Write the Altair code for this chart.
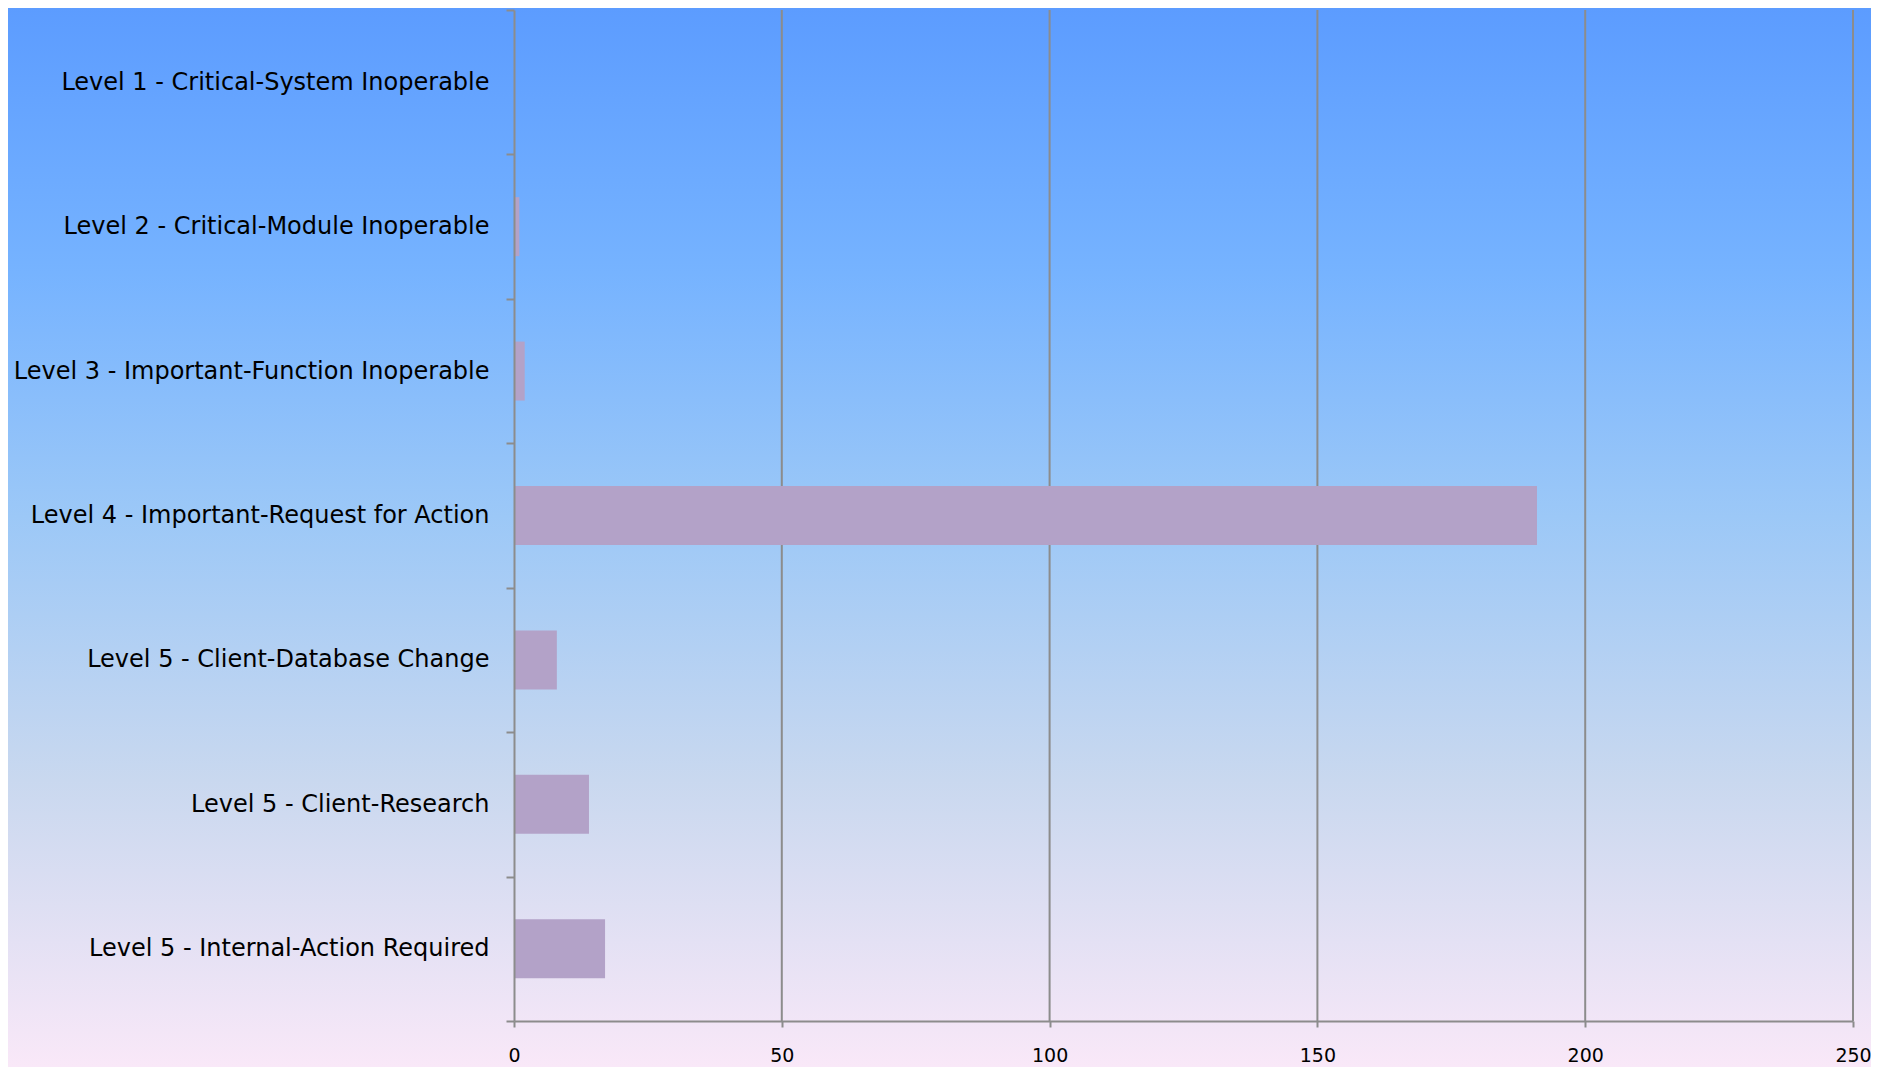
import altair as alt
import pandas as pd

categories = [
    "Level 1 - Critical-System Inoperable",
    "Level 2 - Critical-Module Inoperable",
    "Level 3 - Important-Function Inoperable",
    "Level 4 - Important-Request for Action",
    "Level 5 - Client-Database Change",
    "Level 5 - Client-Research",
    "Level 5 - Internal-Action Required",
]
counts = [0, 1, 2, 191, 8, 14, 17]
x_ticks = [0, 50, 100, 150, 200, 250]

W, H = 1339, 1011
PAD = {"left": 506, "top": 2, "right": 18, "bottom": 46}
GRAY = "#8c8c8c"
FONT = "DejaVu Sans"

df = pd.DataFrame({"level": categories, "count": counts})
grid_df = pd.DataFrame({"v": x_ticks[1:]})
bg_df = pd.DataFrame({"k": [0]})

grad = alt.LinearGradient(
    gradient="linear", x1=0, y1=0, x2=0, y2=1,
    stops=[
        alt.GradientStop(offset=0.0, color="#5c9cff"),
        alt.GradientStop(offset=0.25, color="#76b3ff"),
        alt.GradientStop(offset=0.48, color="#9cc8f7"),
        alt.GradientStop(offset=0.73, color="#c9d8ef"),
        alt.GradientStop(offset=1.0, color="#f9e8f8"),
    ],
)

x_scale = alt.Scale(domain=[0, 250], nice=False, zero=True)
x_axis = alt.Axis(
    values=x_ticks, format="d", grid=False, zindex=1, labelFlush=False,
    domainColor=GRAY, domainWidth=2, tickColor=GRAY, tickWidth=2, tickSize=6,
    labelFont=FONT, labelFontSize=19, labelColor="black", labelPadding=19,
    title=None,
)

bg = alt.Chart(bg_df).mark_rect(color=grad).encode(
    x=alt.value(-PAD["left"]),
    x2=alt.value(W + PAD["right"]),
    y=alt.value(-PAD["top"]),
    y2=alt.value(H + PAD["bottom"]),
)

rules = alt.Chart(grid_df).mark_rule(color=GRAY, strokeWidth=2).encode(
    x=alt.X("v:Q", scale=x_scale, axis=x_axis),
    y=alt.value(0),
    y2=alt.value(H),
)

bars = alt.Chart(df).mark_bar(color="#b3a2c8", size=59).encode(
    x=alt.X("count:Q", scale=x_scale, axis=x_axis),
    y=alt.Y(
        "level:N",
        sort=categories,
        scale=alt.Scale(domain=categories, paddingInner=0, paddingOuter=0),
        axis=alt.Axis(
            title=None, zindex=1, tickBand="extent",
            domainColor=GRAY, domainWidth=2, tickColor=GRAY, tickWidth=2, tickSize=8,
            labelFont=FONT, labelFontSize=24, labelColor="black", labelPadding=17,
            labelLimit=600,
        ),
    ),
)

chart = alt.layer(bg, rules, bars).properties(
    width=W, height=H,
    autosize=alt.AutoSizeParams(type="none"),
    padding=PAD,
    background="white",
).configure_view(stroke=None)

chart.save("out.html", embed_options={"renderer": "svg", "actions": False})
